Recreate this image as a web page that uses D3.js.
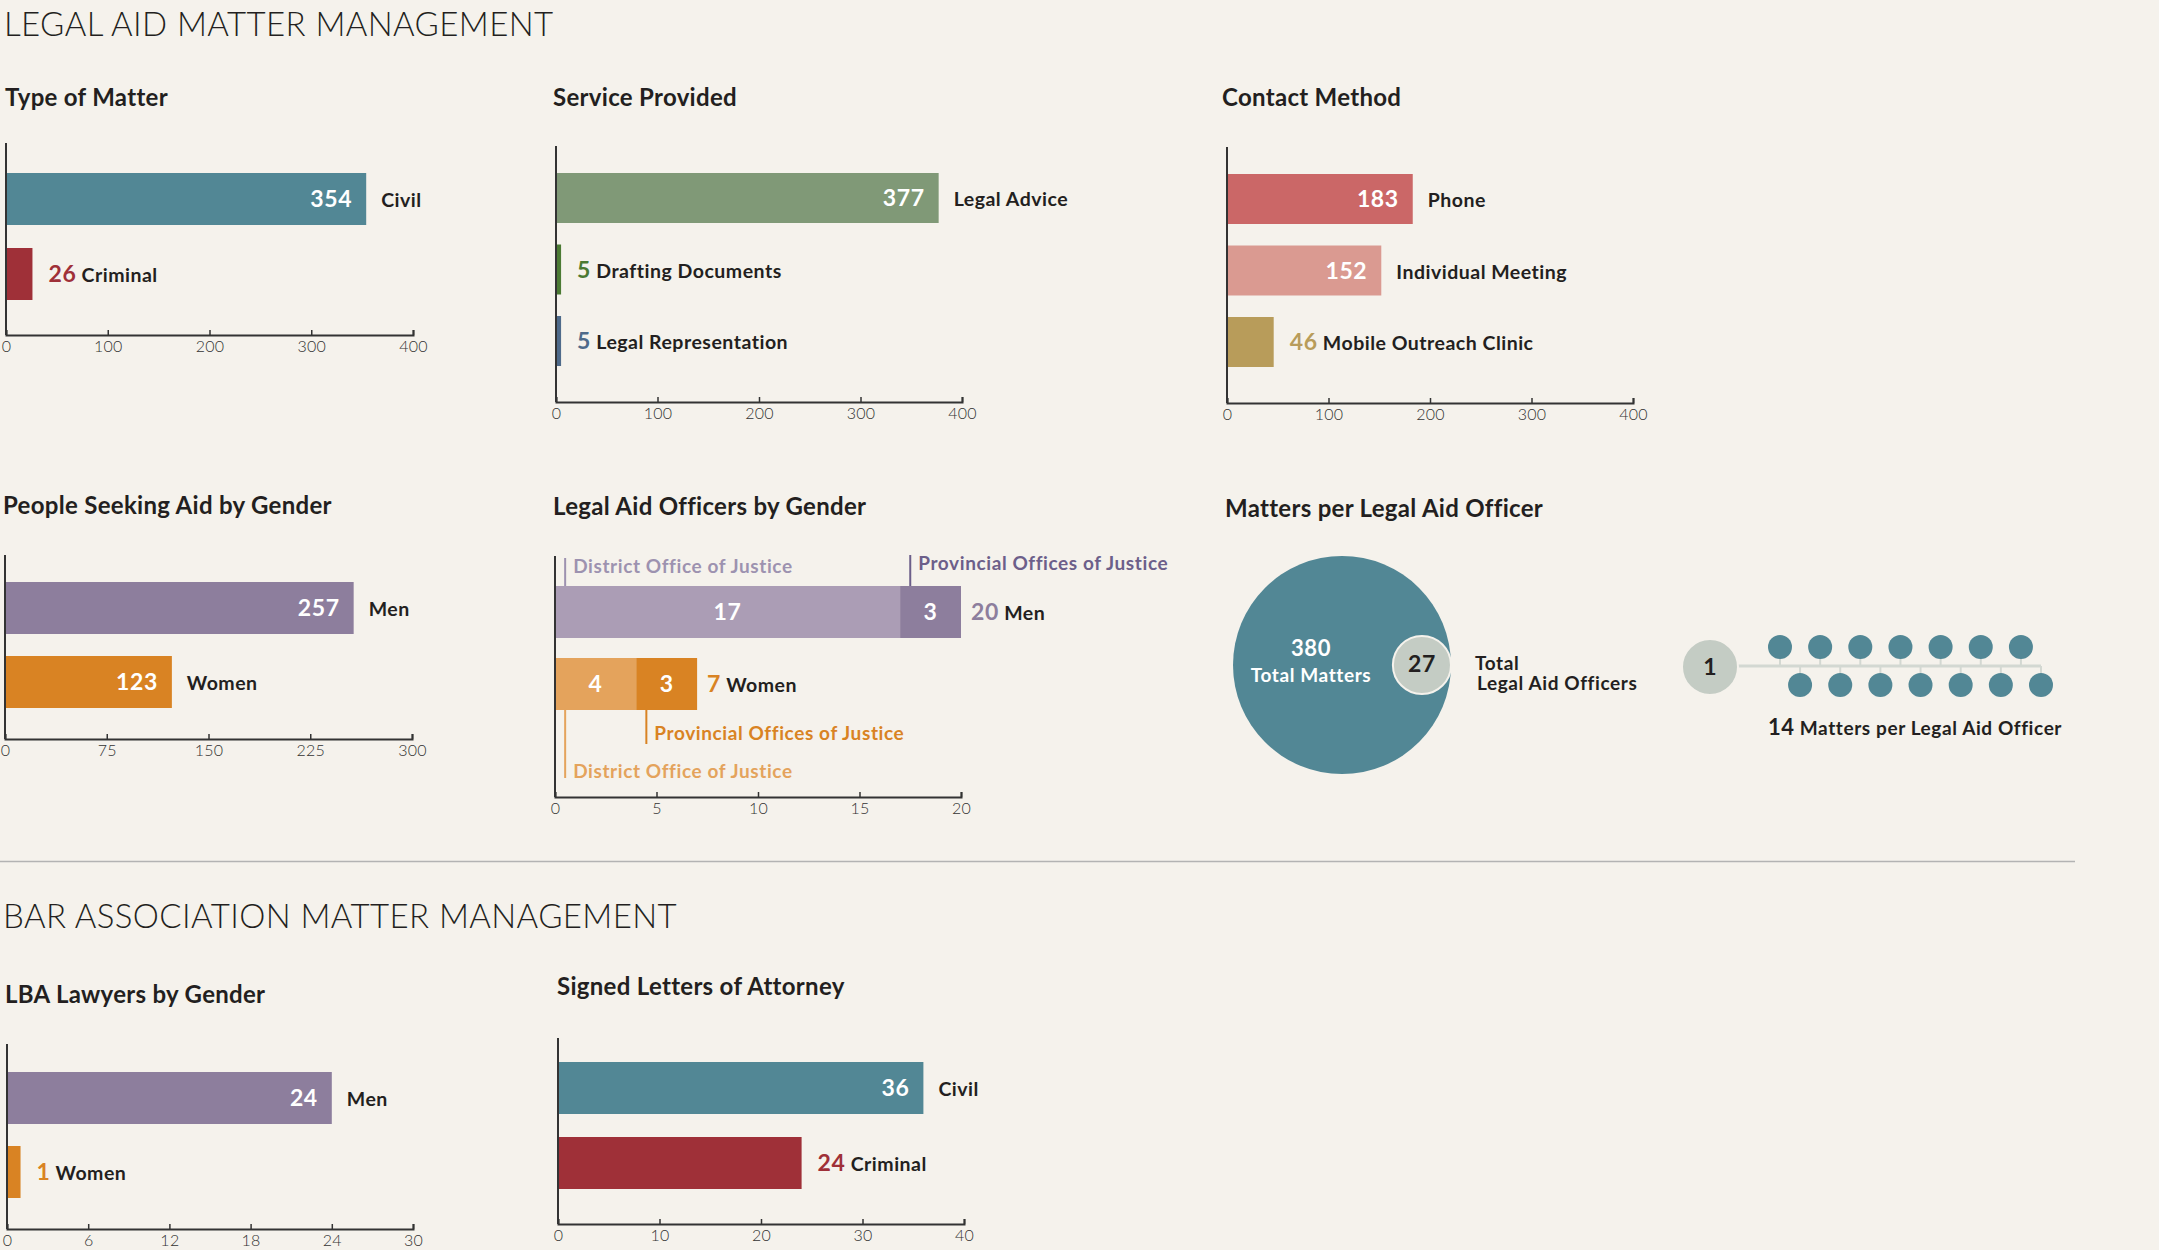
<!DOCTYPE html>
<html>
<head>
<meta charset="utf-8">
<script src="https://cdn.jsdelivr.net/npm/d3@7"></script>
<style>
  html, body { margin: 0; padding: 0; background: #f5f2ec; }
  svg { display: block; font-family: Lato, "Open Sans", sans-serif; }
</style>
</head>
<body>
<svg id="chart" width="2159" height="1250"></svg>
<script>
// ---------------- DATA ----------------
const matterTypes = ["Civil", "Criminal"];
const matterCounts = [354, 26];

const serviceTypes = ["Legal Advice", "Drafting Documents", "Legal Representation"];
const serviceCounts = [377, 5, 5];

const contactMethods = ["Phone", "Individual Meeting", "Mobile Outreach Clinic"];
const contactCounts = [183, 152, 46];

const genders = ["Men", "Women"];
const seekersByGender = [257, 123];

const officeLabels = ["District Office of Justice", "Provincial Offices of Justice"];
const officersDistrict = [17, 4];
const officersProvincial = [3, 3];

const totalMatters = 380;
const totalOfficers = 27;
const mattersPerOfficer = 14;

const lbaLawyersByGender = [24, 1];

const letterTypes = ["Civil", "Criminal"];
const letterCounts = [36, 24];

const ticks400 = [0, 100, 200, 300, 400];
const ticks300 = [0, 75, 150, 225, 300];
const ticks20 = [0, 5, 10, 15, 20];
const ticks30 = [0, 6, 12, 18, 24, 30];
const ticks40 = [0, 10, 20, 30, 40];

// ---------------- STYLE ----------------
const DARK = "#231f20";
const AXIS = "#333333";
const BG = "#f5f2ec";
const C = {
  teal: "#528795", red: "#9f3038", sage: "#809977", green: "#4b7a33", slate: "#4e6a8a",
  phone: "#cb6767", meet: "#da9a91", gold: "#b89c5a",
  purple: "#8d7e9d", orange: "#d98323", lpurple: "#ab9db5", lorange: "#e4a35c",
  grey: "#c4ccc4", line: "#d3d8d2"
};
// font presets: [size, weight, letter-spacing]
const F = {
  section: [33, 300, 0.4],
  title: [24, 700, 0.3],
  value: [23, 700, 0.6],
  label: [19.5, 700, 0.5],
  note: [19, 700, 0.6],
  tick: [16, 300, 0.3]
};

const svg = d3.select("#chart");

function styleText(sel, f, fill) {
  return sel.attr("font-size", f[0]).attr("font-weight", f[1]).attr("letter-spacing", f[2]).attr("fill", fill);
}
function text(g, x, y, str, f, fill, anchor) {
  return styleText(g.append("text").attr("x", x).attr("y", y).text(str), f, fill)
    .attr("text-anchor", anchor || "start");
}

// Section titles
text(svg, 4, 36, "LEGAL AID MATTER MANAGEMENT", F.section, DARK);
text(svg, 3, 928, "BAR ASSOCIATION MATTER MANAGEMENT", F.section, DARK);
svg.append("line").attr("x1", 0).attr("x2", 2075).attr("y1", 861.5).attr("y2", 861.5)
  .attr("stroke", "#b3b3b3").attr("stroke-width", 1.5);

function axes(g, x, cfg, ticks) {
  const ax = g.append("g").attr("transform", `translate(0,${cfg.axisBottom})`)
    .call(d3.axisBottom(x).tickValues(ticks).tickSize(-5).tickPadding(6));
  ax.select(".domain").attr("stroke", AXIS).attr("stroke-width", 2);
  ax.selectAll(".tick line").attr("stroke", AXIS).attr("stroke-width", 1.5);
  styleText(ax.selectAll(".tick text"), F.tick, AXIS)
    .attr("font-family", "Lato, 'Open Sans', sans-serif");
  g.append("line").attr("x1", x(0)).attr("x2", x(0))
    .attr("y1", cfg.axisTop).attr("y2", cfg.axisBottom)
    .attr("stroke", AXIS).attr("stroke-width", 2);
}

function valueLabel(g, x, y, v, cat, color) {
  const t = g.append("text").attr("x", x).attr("y", y);
  styleText(t.append("tspan").text(v), F.value, color);
  styleText(t.append("tspan").text(" " + cat), F.label, DARK);
  return t;
}

function barChart(cfg) {
  const g = svg.append("g");
  text(g, cfg.titleX, cfg.titleY, cfg.title, F.title, DARK);
  const n = cfg.cats.length;
  const x = d3.scaleLinear().domain([0, cfg.max]).range([cfg.x0, cfg.x1]);
  const y = d3.scaleBand().domain(cfg.cats)
    .range([cfg.firstBar, cfg.firstBar + n * cfg.step - (cfg.step - cfg.bw)])
    .paddingInner(1 - cfg.bw / cfg.step).paddingOuter(0);
  const rows = cfg.cats.map((c, i) => ({ cat: c, v: cfg.vals[i], color: cfg.colors[i], inside: cfg.inside[i] }));

  g.selectAll("rect.bar").data(rows).join("rect").attr("class", "bar")
    .attr("x", x(0)).attr("y", d => y(d.cat))
    .attr("width", d => x(d.v) - x(0)).attr("height", y.bandwidth())
    .attr("fill", d => d.color);

  rows.forEach(d => {
    const cy = y(d.cat) + y.bandwidth() / 2 + 8;
    const end = x(d.v);
    if (d.inside) {
      text(g, end - 14, cy, d.v, F.value, "#ffffff", "end");
      text(g, end + 15, cy, d.cat, F.label, DARK);
    } else {
      valueLabel(g, end + 16, cy, d.v, d.cat, d.color);
    }
  });
  axes(g, x, cfg, cfg.ticks);
}

barChart({ title: "Type of Matter", titleX: 5, titleY: 106, x0: 6, x1: 413, max: 400,
  axisTop: 143, axisBottom: 335, firstBar: 173, step: 75, bw: 52,
  cats: matterTypes, vals: matterCounts, colors: [C.teal, C.red], inside: [true, false], ticks: ticks400 });

barChart({ title: "Service Provided", titleX: 553, titleY: 106, x0: 556, x1: 962, max: 400,
  axisTop: 146, axisBottom: 402, firstBar: 173, step: 71.5, bw: 50,
  cats: serviceTypes, vals: serviceCounts, colors: [C.sage, C.green, C.slate], inside: [true, false, false], ticks: ticks400 });

barChart({ title: "Contact Method", titleX: 1222, titleY: 106, x0: 1227, x1: 1633, max: 400,
  axisTop: 147, axisBottom: 403, firstBar: 174, step: 71.5, bw: 50,
  cats: contactMethods, vals: contactCounts, colors: [C.phone, C.meet, C.gold], inside: [true, true, false], ticks: ticks400 });

barChart({ title: "People Seeking Aid by Gender", titleX: 3, titleY: 514, x0: 5, x1: 412, max: 300,
  axisTop: 555, axisBottom: 739, firstBar: 582, step: 74, bw: 52,
  cats: genders, vals: seekersByGender, colors: [C.purple, C.orange], inside: [true, true], ticks: ticks300 });

barChart({ title: "LBA Lawyers by Gender", titleX: 5, titleY: 1003, x0: 7, x1: 413, max: 30,
  axisTop: 1044, axisBottom: 1229, firstBar: 1072, step: 74, bw: 52,
  cats: genders, vals: lbaLawyersByGender, colors: [C.purple, C.orange], inside: [true, false], ticks: ticks30 });

barChart({ title: "Signed Letters of Attorney", titleX: 557, titleY: 995, x0: 558, x1: 964, max: 40,
  axisTop: 1038, axisBottom: 1224, firstBar: 1062, step: 75, bw: 52,
  cats: letterTypes, vals: letterCounts, colors: [C.teal, C.red], inside: [true, false], ticks: ticks40 });

// ---------------- Legal Aid Officers by Gender (stacked) ----------------
(function () {
  const cfg = { x0: 555, x1: 961, axisTop: 556, axisBottom: 797, firstBar: 586, step: 72, bw: 52 };
  const g = svg.append("g");
  text(g, 553, 515, "Legal Aid Officers by Gender", F.title, DARK);
  const x = d3.scaleLinear().domain([0, 20]).range([cfg.x0, cfg.x1]);
  const y = d3.scaleBand().domain(genders)
    .range([cfg.firstBar, cfg.firstBar + 2 * cfg.step - (cfg.step - cfg.bw)])
    .paddingInner(1 - cfg.bw / cfg.step).paddingOuter(0);
  const rows = genders.map((gd, i) => ({ g: gd, d: officersDistrict[i], p: officersProvincial[i] }));
  const segColors = { Men: [C.lpurple, C.purple], Women: [C.lorange, C.orange] };
  const labColors = { Men: ["#9d92b0", "#6c5f8a"], Women: [C.lorange, C.orange] };
  const totColors = { Men: "#8d7e9d", Women: C.orange };

  rows.forEach(r => {
    const top = y(r.g), bw = y.bandwidth(), cy = top + bw / 2 + 8;
    const segs = [[0, r.d], [r.d, r.d + r.p]];
    segs.forEach((s, j) => {
      g.append("rect").attr("x", x(s[0])).attr("y", top).attr("width", x(s[1]) - x(s[0]))
        .attr("height", bw).attr("fill", segColors[r.g][j]);
      text(g, (x(s[0]) + x(s[1])) / 2, cy, s[1] - s[0], F.value, "#fff", "middle");
    });
    valueLabel(g, x(r.d + r.p) + 10, cy, r.d + r.p, r.g, totColors[r.g]);

    // annotation leaders
    const starts = [0, r.d];
    starts.forEach((s, j) => {
      const lx = x(s + 0.5);
      let y1, y2, ty;
      if (r.g === "Men") {
        y2 = top; y1 = j === 0 ? top - 28 : top - 31; ty = j === 0 ? top - 13 : top - 16;
      } else {
        y1 = top + bw; y2 = j === 0 ? top + bw + 68 : top + bw + 34; ty = j === 0 ? top + bw + 68 : top + bw + 30;
      }
      g.append("line").attr("x1", lx).attr("x2", lx).attr("y1", y1).attr("y2", y2)
        .attr("stroke", labColors[r.g][j]).attr("stroke-width", 2);
      text(g, lx + 8, ty, officeLabels[j], F.note, labColors[r.g][j]);
    });
  });
  axes(g, x, cfg, ticks20);
})();

// ---------------- Matters per Legal Aid Officer ----------------
(function () {
  const g = svg.append("g");
  text(g, 1225, 517, "Matters per Legal Aid Officer", F.title, DARK);
  const r = d3.scaleSqrt().domain([0, totalMatters]).range([0, 109]);
  const cx = 1342, cy = 665;
  const R = r(totalMatters), rs = r(totalOfficers);
  g.append("circle").attr("cx", cx).attr("cy", cy).attr("r", R).attr("fill", C.teal);
  g.append("circle").attr("cx", cx + R - rs).attr("cy", cy).attr("r", rs)
    .attr("fill", C.grey).attr("stroke", BG).attr("stroke-width", 2);
  text(g, cx - 31, 656, totalMatters, [22, 700, 0.5], "#fff", "middle");
  text(g, cx - 31, 682, "Total Matters", F.note, "#fff", "middle");
  text(g, cx + R - rs, 672, totalOfficers, [23, 700, 0.5], DARK, "middle");
  text(g, 1475, 670, "Total", F.note, DARK);
  text(g, 1477, 690, "Legal Aid Officers", F.note, DARK);

  // one officer -> 14 matters
  const ox = 1710, oy = 667, orr = 28;
  const dx = d3.scaleLinear().domain([0, mattersPerOfficer - 1]).range([1780, 2041]);
  const lineY = 666, dr = 12;
  g.append("line").attr("x1", ox + orr).attr("x2", dx(mattersPerOfficer - 1)).attr("y1", lineY).attr("y2", lineY)
    .attr("stroke", C.line).attr("stroke-width", 3);
  const dots = d3.range(mattersPerOfficer).map(i => ({ i, top: i % 2 === 0 }));
  g.selectAll("line.stem").data(dots).join("line").attr("class", "stem")
    .attr("x1", d => dx(d.i)).attr("x2", d => dx(d.i))
    .attr("y1", lineY).attr("y2", d => d.top ? 647 : 685)
    .attr("stroke", C.line).attr("stroke-width", 2);
  g.selectAll("circle.dot").data(dots).join("circle").attr("class", "dot")
    .attr("cx", d => dx(d.i)).attr("cy", d => d.top ? 647 : 685).attr("r", dr).attr("fill", C.teal);
  g.append("circle").attr("cx", ox).attr("cy", oy).attr("r", orr)
    .attr("fill", C.grey).attr("stroke", BG).attr("stroke-width", 2);
  text(g, ox, oy + 8, 1, [23, 700, 0], DARK, "middle");
  const t = g.append("text").attr("x", 1768).attr("y", 735);
  styleText(t.append("tspan").text(mattersPerOfficer), [22, 700, 0.5], DARK);
  styleText(t.append("tspan").text(" Matters per Legal Aid Officer"), F.note, DARK);
})();
</script>
</body>
</html>
